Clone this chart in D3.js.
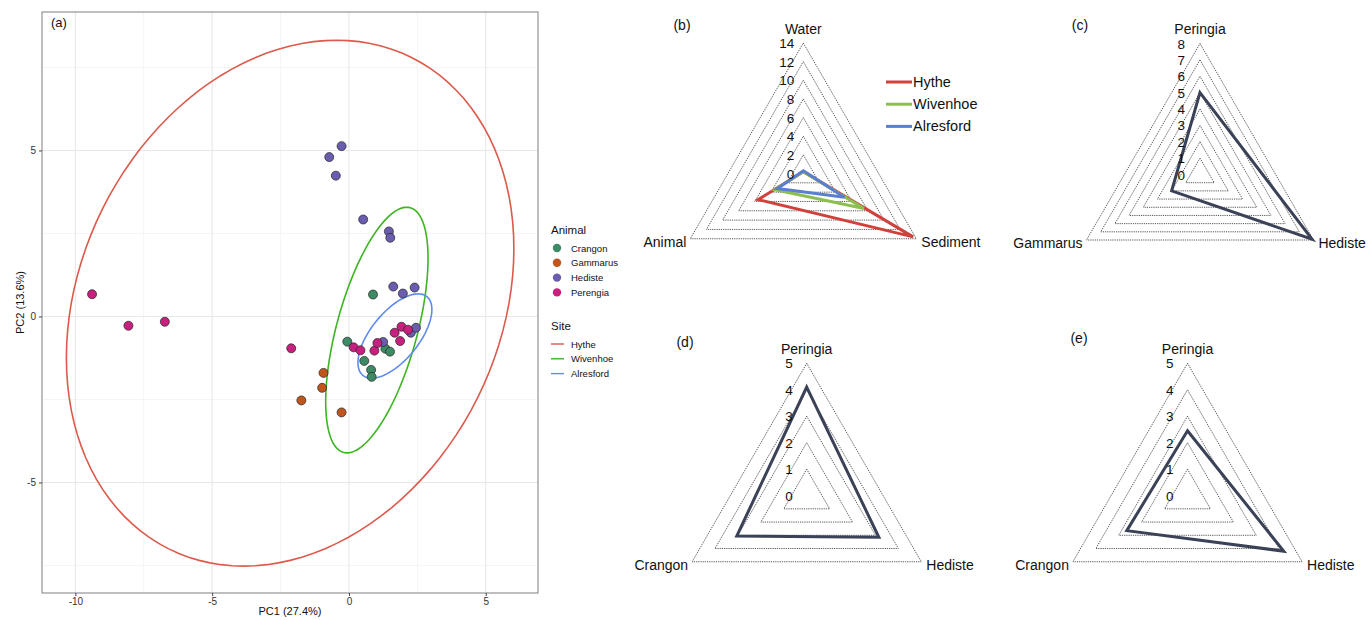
<!DOCTYPE html>
<html>
<head>
<meta charset="utf-8">
<script src="https://cdn.jsdelivr.net/npm/d3@7"></script>
<style>
  html, body { margin: 0; padding: 0; background: #fff; }
  svg { display: block; font-family: "Liberation Sans", Arial, Helvetica, sans-serif; }
</style>
</head>
<body>
<svg id="chart" width="1372" height="620"></svg>
<script>
// ---------------- PCA data (panel a) ----------------
const animals = ["Crangon", "Gammarus", "Hediste", "Perengia"];
const animalColors = ["#3d8b64", "#c0561b", "#6a5db0", "#c7207e"];
const crangonPC1 = [0.88, -0.06, 0.56, 0.81, 0.83, 1.33, 1.50];
const crangonPC2 = [0.66, -0.76, -1.34, -1.61, -1.82, -0.97, -1.06];
const gammarusPC1 = [-0.93, -0.98, -1.74, -0.27];
const gammarusPC2 = [-1.70, -2.15, -2.53, -2.89];
const hedistePC1 = [-0.27, -0.72, -0.48, 0.52, 1.46, 1.51, 1.62, 2.40, 1.97, 1.25, 2.26, 2.45];
const hedistePC2 = [5.13, 4.80, 4.24, 2.92, 2.56, 2.37, 0.90, 0.87, 0.69, -0.77, -0.49, -0.34];
const perengiaPC1 = [-9.39, -8.06, -6.73, -2.11, 0.17, 0.42, 0.93, 1.04, 1.67, 1.92, 2.16, 1.87];
const perengiaPC2 = [0.67, -0.28, -0.16, -0.96, -0.93, -1.02, -1.03, -0.80, -0.49, -0.31, -0.40, -0.74];

const sites = ["Hythe", "Wivenhoe", "Alresford"];
const siteColors = ["#dc5a4c", "#3cb521", "#5f8bef"];
// ellipse: centre, conjugate semi-diameters (data units)
const ellCx = [-2.15, 1.02, 1.68];
const ellCy = [0.40, -0.41, -0.59];
const ellUx = [1.70, 1.09, 0.85];
const ellUy = [7.92, 3.70, 1.27];
const ellVx = [8.00, 1.52, 1.05];
const ellVy = [0, 0, 0];

const pcaXTicks = [-10, -5, 0, 5];
const pcaYTicks = [-5, 0, 5];
const pcaXMinor = [-7.5, -2.5, 2.5];
const pcaYMinor = [-7.5, -2.5, 2.5, 7.5];

// ---------------- Radar data (panels b-e) ----------------
const radarBAxes = ["Water", "Sediment", "Animal"];
const radarBHythe = [0.2, 13.6, 5.6];
const radarBWivenhoe = [0.2, 7.5, 3.5];
const radarBAlresford = [0.3, 5.1, 3.2];
const radarBTicks = [0, 2, 4, 6, 8, 10, 12, 14];

const radarCAxes = ["Peringia", "Hediste", "Gammarus"];
const radarCValues = [5, 7.9, 2];
const radarCTicks = [0, 1, 2, 3, 4, 5, 6, 7, 8];

const radarDAxes = ["Peringia", "Hediste", "Crangon"];
const radarDValues = [4.1, 3.15, 3.05];
const radarDTicks = [0, 1, 2, 3, 4, 5];

const radarEAxes = ["Peringia", "Hediste", "Crangon"];
const radarEValues = [2.45, 4.2, 2.65];
const radarETicks = [0, 1, 2, 3, 4, 5];

const svg = d3.select("#chart");

// ================= Panel (a) =================
const pL = 42, pR = 538, pT = 12, pB = 593;
const x = d3.scaleLinear().domain([-11.22, 6.91]).range([pL, pR]);
const y = d3.scaleLinear().domain([-8.33, 9.17]).range([pB, pT]);

const ga = svg.append("g");
// gridlines
ga.selectAll("line.minx").data(pcaXMinor).join("line")
  .attr("x1", d => x(d)).attr("x2", d => x(d)).attr("y1", pT).attr("y2", pB)
  .attr("stroke", "#f2f2f2").attr("stroke-width", 0.8);
ga.selectAll("line.miny").data(pcaYMinor).join("line")
  .attr("y1", d => y(d)).attr("y2", d => y(d)).attr("x1", pL).attr("x2", pR)
  .attr("stroke", "#f2f2f2").attr("stroke-width", 0.8);
ga.selectAll("line.majx").data(pcaXTicks).join("line")
  .attr("x1", d => x(d)).attr("x2", d => x(d)).attr("y1", pT).attr("y2", pB)
  .attr("stroke", "#e8e8e8").attr("stroke-width", 1.1);
ga.selectAll("line.majy").data(pcaYTicks).join("line")
  .attr("y1", d => y(d)).attr("y2", d => y(d)).attr("x1", pL).attr("x2", pR)
  .attr("stroke", "#e8e8e8").attr("stroke-width", 1.1);

// ellipses
const ts = d3.range(0, 361, 3).map(d => d * Math.PI / 180);
sites.forEach((s, i) => {
  const pts = ts.map(t => [
    x(ellCx[i] + ellUx[i] * Math.cos(t) + ellVx[i] * Math.sin(t)),
    y(ellCy[i] + ellUy[i] * Math.cos(t) + ellVy[i] * Math.sin(t))
  ]);
  ga.append("path").attr("d", d3.line()(pts))
    .attr("fill", "none").attr("stroke", siteColors[i]).attr("stroke-width", 1.6);
});

// points
const animalData = [
  [crangonPC1, crangonPC2], [gammarusPC1, gammarusPC2],
  [hedistePC1, hedistePC2], [perengiaPC1, perengiaPC2]
];
animalData.forEach((arr, i) => {
  const pts = arr[0].map((v, j) => [v, arr[1][j]]);
  ga.selectAll(null).data(pts).join("circle")
    .attr("cx", d => x(d[0])).attr("cy", d => y(d[1])).attr("r", 4.5)
    .attr("fill", animalColors[i]).attr("stroke", "#222").attr("stroke-width", 0.7);
});

// border
ga.append("rect").attr("x", pL).attr("y", pT).attr("width", pR - pL).attr("height", pB - pT)
  .attr("fill", "none").attr("stroke", "#8a8a8a").attr("stroke-width", 1.1);

// axes
const xAxis = d3.axisBottom(x).tickValues(pcaXTicks).tickSize(3).tickPadding(2).tickFormat(d3.format("d"));
const gx = ga.append("g").attr("transform", `translate(0,${pB})`).call(xAxis);
const yAxis = d3.axisLeft(y).tickValues(pcaYTicks).tickSize(3).tickPadding(3).tickFormat(d3.format("d"));
const gy = ga.append("g").attr("transform", `translate(${pL},0)`).call(yAxis);
[gx, gy].forEach(g => {
  g.select(".domain").remove();
  g.selectAll(".tick line").attr("stroke", "#444");
  g.selectAll(".tick text").attr("fill", "#333").style("font-size", "10px")
    .style("font-family", "'Liberation Sans', Arial, sans-serif");
});
gx.selectAll(".tick text").text(d => d < 0 ? "-" + Math.abs(d) : d);
gy.selectAll(".tick text").text(d => d < 0 ? "-" + Math.abs(d) : d);

ga.append("text").attr("x", (pL + pR) / 2).attr("y", 611).attr("text-anchor", "middle")
  .attr("dominant-baseline", "central").style("font-size", "11px").attr("fill", "#111").text("PC1 (27.4%)");
ga.append("text").attr("transform", `translate(20,${(pT + pB) / 2}) rotate(-90)`).attr("text-anchor", "middle")
  .attr("dominant-baseline", "central").style("font-size", "11px").attr("fill", "#111").text("PC2 (13.6%)");
ga.append("text").attr("x", 51).attr("y", 27).style("font-size", "13px").attr("fill", "#111").text("(a)");

// legend
const gl = svg.append("g");
gl.append("text").attr("x", 551).attr("y", 230).attr("dominant-baseline", "central")
  .style("font-size", "11.5px").attr("fill", "#111").text("Animal");
animals.forEach((a, i) => {
  const yy = 248 + i * 14.8;
  gl.append("circle").attr("cx", 557).attr("cy", yy).attr("r", 4.2)
    .attr("fill", animalColors[i]).attr("stroke", "none");
  gl.append("text").attr("x", 571).attr("y", yy).attr("dominant-baseline", "central")
    .style("font-size", "9.5px").attr("fill", "#111").text(a);
});
gl.append("text").attr("x", 551).attr("y", 326).attr("dominant-baseline", "central")
  .style("font-size", "11.5px").attr("fill", "#111").text("Site");
sites.forEach((s, i) => {
  const yy = 344 + i * 14.8;
  gl.append("line").attr("x1", 551).attr("x2", 564).attr("y1", yy).attr("y2", yy)
    .attr("stroke", siteColors[i]).attr("stroke-width", 1.4);
  gl.append("text").attr("x", 571).attr("y", yy).attr("dominant-baseline", "central")
    .style("font-size", "9.5px").attr("fill", "#111").text(s);
});

// ================= Radar panels =================
function drawRadar(opt) {
  const g = svg.append("g");
  const { cx, cy, R, ticks, axes, series, tag, tagX, tagY, tickOff } = opt;
  const maxV = d3.max(ticks);
  const r = d3.scaleLinear().domain([0, maxV]).range([0, R]);
  const ang = d3.scaleLinear().domain([0, axes.length]).range([-Math.PI / 2, 1.5 * Math.PI]);
  const pt = (i, v) => [cx + r(v) * Math.cos(ang(i)), cy + r(v) * Math.sin(ang(i))];

  // dotted rings
  ticks.filter(t => t > 0).forEach(t => {
    const pts = axes.map((a, i) => pt(i, t));
    g.append("path").attr("d", d3.line()(pts) + "Z")
      .attr("fill", "none").attr("stroke", "#444").attr("stroke-width", 0.9)
      .attr("stroke-dasharray", "1.2,1");
  });
  // series
  series.forEach(s => {
    const pts = s.values.map((v, i) => pt(i, v));
    g.append("path").attr("d", d3.line()(pts) + "Z")
      .attr("fill", "none").attr("stroke", s.color).attr("stroke-width", 3)
      .attr("stroke-linejoin", "miter");
  });
  // tick labels
  ticks.forEach(t => {
    g.append("text").attr("x", cx - tickOff).attr("y", cy - r(t) + 0.5)
      .attr("text-anchor", "end").attr("dominant-baseline", "central")
      .style("font-size", "13.5px").attr("fill", "#111").text(t);
  });
  // axis labels
  axes.forEach((a, i) => {
    const [px, py] = pt(i, maxV);
    let tx = px, ty = py, anchor = "middle";
    if (i === 0) { ty = py - 14.5; }
    else if (Math.cos(ang(i)) > 0) { tx = px + 5; ty = py + 3; anchor = "start"; }
    else { tx = px - 4; ty = py + 3; anchor = "end"; }
    g.append("text").attr("x", tx).attr("y", ty).attr("text-anchor", anchor)
      .attr("dominant-baseline", "central").style("font-size", "14px").attr("fill", "#111").text(a);
  });
  g.append("text").attr("x", tagX).attr("y", tagY).attr("text-anchor", "middle")
    .attr("dominant-baseline", "central").style("font-size", "14px").attr("fill", "#111").text(tag);
  return g;
}

const radarColors = ["#d0413c", "#8cbf4f", "#5a7fcf"];
const navy = "#3b4257";

const gb = drawRadar({
  cx: 803.3, cy: 173.5, R: 130.5, ticks: radarBTicks, axes: radarBAxes,
  series: [
    { values: radarBHythe, color: radarColors[0] },
    { values: radarBWivenhoe, color: radarColors[1] },
    { values: radarBAlresford, color: radarColors[2] }
  ],
  tag: "(b)", tagX: 682, tagY: 25, tickOff: 9
});
// legend (b)
[radarBHythe, radarBWivenhoe, radarBAlresford].forEach((s, i) => {
  const yy = 82 + i * 22.2;
  gb.append("line").attr("x1", 886).attr("x2", 912).attr("y1", yy).attr("y2", yy)
    .attr("stroke", radarColors[i]).attr("stroke-width", 3);
  gb.append("text").attr("x", 913).attr("y", yy).attr("dominant-baseline", "central")
    .style("font-size", "14.5px").attr("fill", "#111").text(sites[i]);
});

drawRadar({
  cx: 1200, cy: 174.5, R: 131, ticks: radarCTicks, axes: radarCAxes,
  series: [{ values: radarCValues, color: navy }],
  tag: "(c)", tagX: 1080, tagY: 25, tickOff: 15
});
drawRadar({
  cx: 806.7, cy: 495.6, R: 132.3, ticks: radarDTicks, axes: radarDAxes,
  series: [{ values: radarDValues, color: navy }],
  tag: "(d)", tagX: 685, tagY: 342, tickOff: 14
});
drawRadar({
  cx: 1187.5, cy: 495.6, R: 132.3, ticks: radarETicks, axes: radarEAxes,
  series: [{ values: radarEValues, color: navy }],
  tag: "(e)", tagX: 1079, tagY: 338, tickOff: 14
});
</script>
</body>
</html>
